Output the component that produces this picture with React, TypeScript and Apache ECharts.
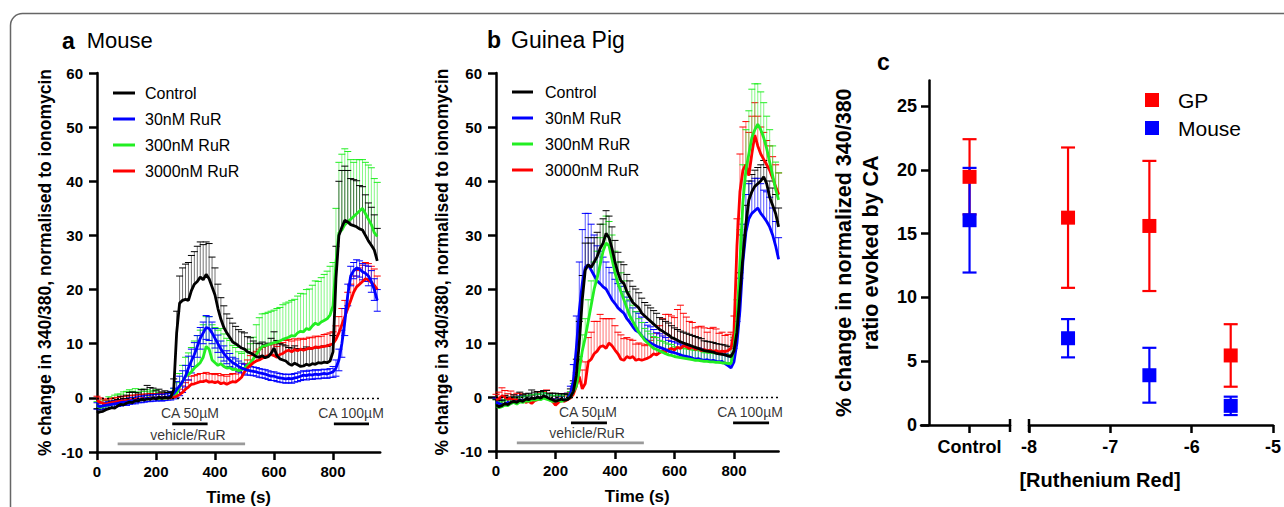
import React, { useEffect, useRef } from "react";
import * as echarts from "echarts";

const FONT = '"Liberation Sans", Arial, Helvetica, sans-serif';

// ---------- sampling times (s) ----------
const T_SEC = [
  0, 10, 20, 30, 40, 50, 60, 70, 80, 90,
  100, 110, 120, 130, 140, 150, 160, 170, 180, 190,
  200, 210, 220, 230, 240, 250, 260, 270, 280, 290,
  300, 310, 320, 330, 340, 350, 360, 370, 380, 390,
  400, 410, 420, 430, 440, 450, 460, 470, 480, 490,
  500, 510, 520, 530, 540, 550, 560, 570, 580, 590,
  600, 610, 620, 630, 640, 650, 660, 670, 680, 690,
  700, 710, 720, 730, 740, 750, 760, 770, 780, 790,
  800, 810, 820, 830, 840, 850, 860, 870, 880, 890,
  900, 910, 920, 930, 940, 950,
];

const SERIES_NAMES = ["Control", "30nM RuR", "300nM RuR", "3000nM RuR"];

// ---------- panel a: Mouse ----------
const A_CONTROL = [
  -2.8, -2.6, -2.5, -2.2, -2.0, -1.8, -1.9, -1.5, -1.2, -1.3,
  -1.0, -0.8, -0.9, -0.5, -0.6, -0.3, -0.4, -0.2, -0.3, 0.0,
  -0.2, 0.1, -0.1, 0.1, 0.0, 0.1, 1.5, 12.0, 17.5, 18.0,
  18.2, 18.0, 19.8, 21.0, 21.5, 22.3, 21.8, 22.8, 22.0, 20.5,
  19.0, 16.5, 14.5, 13.0, 12.0, 11.2, 10.3, 10.0, 9.6, 9.2,
  9.0, 8.5, 8.3, 8.0, 7.6, 7.5, 7.8, 7.4, 7.6, 8.2,
  9.2, 7.8, 7.2, 7.0, 6.8, 6.3, 6.0, 6.4, 6.1, 5.8,
  5.9, 6.2, 6.0, 6.3, 6.2, 6.5, 6.4, 6.6, 6.5, 6.8,
  8.5, 22.0, 30.0, 31.5, 32.8, 32.5, 32.0, 31.8, 31.6, 31.2,
  31.0, 30.0, 29.0, 28.2, 27.3, 25.3,
];
const A_CONTROL_SEM = [
  0.8, 0.8, 1.0, 1.0, 1.0, 1.2, 1.0, 1.2, 1.5, 1.2,
  1.5, 1.8, 2.0, 1.5, 1.5, 1.8, 2.0, 2.5, 2.2, 1.8,
  1.5, 1.5, 1.2, 1.2, 1.0, 1.0, 2.0, 4.0, 5.0, 6.0,
  6.5, 7.0, 6.5, 6.0, 6.5, 6.5, 6.5, 6.0, 6.5, 5.5,
  5.0, 4.5, 4.0, 4.0, 3.5, 3.5, 3.5, 3.2, 3.0, 3.0,
  3.0, 2.8, 2.8, 2.5, 2.5, 2.5, 2.5, 2.5, 2.5, 2.8,
  3.0, 2.8, 2.8, 2.8, 2.8, 3.0, 3.2, 3.2, 3.0, 3.0,
  3.2, 3.2, 3.0, 3.0, 3.0, 3.0, 3.0, 3.0, 3.0, 3.0,
  3.0, 6.0, 10.0, 10.5, 10.0, 9.5, 8.5, 8.5, 8.5, 8.0,
  8.0, 7.5, 7.0, 7.0, 6.5, 6.0,
];
const A_R30 = [
  -1.5, -1.6, -1.5, -1.4, -1.3, -1.2, -1.1, -1.0, -0.9, -0.8,
  -0.8, -0.6, -0.5, -0.5, -0.3, -0.3, -0.2, -0.1, -0.1, 0.0,
  0.0, 0.1, 0.0, 0.1, 0.2, 0.4, 0.8, 1.5, 2.2, 3.0,
  4.0, 5.5, 6.8, 8.0, 9.5, 11.0, 12.0, 13.0, 12.8, 12.0,
  11.0, 10.0, 9.0, 8.2, 7.5, 7.0, 6.5, 6.2, 5.8, 5.5,
  5.3, 5.1, 5.0, 4.9, 4.8, 4.6, 4.5, 4.4, 4.2, 4.0,
  4.0, 3.8, 3.7, 3.6, 3.5, 3.6, 3.5, 3.7, 3.8, 4.0,
  4.2, 4.1, 4.3, 4.2, 4.4, 4.3, 4.4, 4.5, 4.4, 4.6,
  4.8, 5.5, 7.0, 10.0, 14.0, 19.0, 22.5, 23.5, 24.0, 23.8,
  23.3, 23.0, 22.5, 21.5, 20.0, 18.0,
];
const A_R30_SEM = [
  0.6, 0.6, 0.6, 0.6, 0.6, 0.6, 0.6, 0.6, 0.6, 0.6,
  0.6, 0.6, 0.6, 0.6, 0.6, 0.6, 0.6, 0.6, 0.6, 0.6,
  0.6, 0.6, 0.6, 0.6, 0.6, 0.8, 1.0, 1.5, 1.8, 2.0,
  2.0, 2.2, 2.2, 2.2, 2.0, 2.0, 2.0, 2.2, 2.2, 2.0,
  1.8, 1.6, 1.5, 1.4, 1.2, 1.2, 1.0, 1.0, 1.0, 0.9,
  0.9, 0.9, 0.8, 0.8, 0.8, 0.8, 0.8, 0.8, 0.8, 0.8,
  0.8, 0.8, 0.8, 0.8, 0.8, 0.8, 0.8, 0.8, 0.8, 0.8,
  0.8, 0.8, 0.8, 0.8, 0.8, 0.8, 0.8, 0.8, 0.8, 0.8,
  1.0, 1.5, 2.0, 2.5, 2.5, 2.0, 1.8, 1.5, 1.5, 1.5,
  1.5, 1.5, 1.8, 2.0, 2.0, 2.0,
];
const A_R300 = [
  -1.5, -1.8, -1.6, -1.5, -1.3, -1.2, -1.0, -1.1, -0.8, -0.9,
  -0.6, -0.5, -0.6, -0.3, -0.4, -0.2, -0.3, 0.0, -0.1, 0.1,
  0.0, -0.2, 0.0, -0.1, 0.0, 0.0, 0.2, 0.8, 2.0, 3.0,
  4.0, 4.3, 4.8, 5.5, 6.0, 6.5, 7.5, 9.5, 9.0, 7.0,
  6.5, 6.0, 6.3, 5.8, 5.5, 5.6, 5.2, 5.3, 5.0, 5.2,
  5.5, 6.0, 6.5, 7.2, 8.0, 8.8, 9.5, 9.6, 9.8, 10.0,
  10.2, 10.3, 10.5, 10.8, 11.0, 11.2, 11.5, 11.4, 12.0, 12.3,
  12.2, 12.8, 12.6, 13.3, 13.8, 13.5, 14.0, 14.3, 14.6, 15.3,
  17.0, 25.0, 30.5, 31.0, 32.0, 32.5, 33.0, 33.5, 34.0, 34.5,
  35.0, 34.0, 33.0, 32.0, 30.5, 29.8,
];
const A_R300_SEM = [
  0.8, 1.0, 1.2, 1.0, 1.5, 1.2, 1.5, 1.8, 1.5, 2.0,
  1.8, 2.0, 1.8, 2.0, 1.5, 1.8, 1.5, 1.5, 1.2, 1.2,
  1.5, 1.2, 1.0, 1.0, 1.0, 1.0, 1.5, 2.0, 2.5, 3.0,
  3.5, 4.0, 4.5, 5.0, 5.5, 6.0, 6.0, 5.5, 6.0, 6.5,
  6.5, 6.5, 6.5, 6.0, 5.5, 5.0, 4.5, 4.0, 3.5, 3.0,
  3.0, 3.0, 3.5, 4.0, 5.5, 6.0, 6.0, 6.0, 6.0, 6.0,
  6.0, 6.2, 6.2, 6.4, 6.5, 6.5, 6.5, 6.8, 6.8, 7.0,
  7.0, 7.2, 7.5, 7.5, 7.8, 8.0, 8.2, 8.5, 8.8, 9.0,
  8.0, 10.0, 13.0, 14.0, 14.0, 13.0, 11.0, 10.0, 10.0, 9.5,
  9.0, 9.5, 10.0, 10.5, 10.0, 10.0,
];
const A_R3000 = [
  -0.5, -0.8, -1.0, -1.2, -1.0, -0.9, -0.8, -0.7, -0.6, -0.5,
  -0.5, -0.4, -0.3, -0.3, -0.2, -0.2, -0.1, -0.1, 0.0, 0.0,
  0.0, 0.0, 0.1, 0.0, 0.0, 0.0, 0.1, 0.3, 0.6, 1.0,
  1.6, 2.0, 2.5, 2.6, 2.8, 3.0, 3.0, 3.2, 2.9, 3.0,
  2.8, 3.0, 2.6, 2.8, 2.5, 2.8, 3.0, 2.9, 3.3, 3.8,
  4.8, 5.5, 6.0, 6.5, 6.8, 7.0, 7.3, 7.6, 7.8, 8.0,
  7.8, 7.5, 8.0, 8.2, 8.6, 8.8, 8.5, 8.9, 8.7, 9.0,
  8.8, 9.0, 9.2, 9.1, 9.4, 9.3, 9.4, 9.5, 9.6, 9.8,
  10.0, 10.8, 12.0, 13.5, 15.0, 16.5, 18.0, 19.5, 20.5, 21.0,
  21.5, 22.0, 21.8, 21.3, 20.8, 20.0,
];
const A_R3000_SEM = [
  0.8, 0.8, 0.8, 0.8, 0.8, 0.8, 0.8, 0.8, 0.8, 0.8,
  0.8, 0.8, 0.8, 0.8, 0.8, 0.8, 0.8, 0.8, 0.8, 0.8,
  0.8, 0.8, 0.8, 0.8, 0.8, 0.8, 0.8, 1.0, 1.0, 1.2,
  1.2, 1.3, 1.5, 1.5, 1.5, 1.5, 1.5, 1.5, 1.5, 1.5,
  1.5, 1.5, 1.5, 1.5, 1.5, 1.5, 1.5, 1.5, 1.5, 1.5,
  1.5, 1.5, 1.8, 1.8, 1.8, 2.0, 2.0, 2.0, 2.0, 2.0,
  2.0, 2.0, 2.0, 2.0, 2.0, 2.0, 2.0, 2.0, 2.0, 2.0,
  2.0, 2.0, 2.0, 2.0, 2.0, 2.0, 2.0, 2.2, 2.2, 2.2,
  2.2, 2.5, 3.0, 3.0, 3.0, 3.0, 3.0, 3.0, 3.0, 3.0,
  3.0, 3.0, 3.0, 3.0, 3.0, 2.5,
];

// ---------- panel b: Guinea Pig ----------
const B_CONTROL = [
  -1.5, -1.8, -1.6, -1.2, -1.4, -1.0, -0.8, -1.0, -0.6, -0.8,
  -0.4, -0.5, -0.2, -0.3, 0.0, -0.2, 0.2, 0.0, -0.3, -0.5,
  -0.8, -0.6, -0.4, -0.6, -0.5, 0.0, 1.0, 4.0, 10.0, 18.0,
  23.5, 24.5, 24.0, 25.0, 26.0, 27.5, 28.5, 30.3, 29.5, 27.5,
  25.0, 23.0, 21.5, 21.0, 19.5, 18.5, 17.5, 17.0, 16.5, 15.5,
  15.0, 14.5, 14.0, 13.5, 13.0, 12.5, 12.2, 11.8, 11.5, 11.0,
  10.8, 10.5, 10.2, 10.0, 9.8, 9.6, 9.4, 9.2, 9.0, 8.8,
  8.6, 8.5, 8.4, 8.3, 8.1, 8.0, 7.9, 7.8, 7.6, 7.5,
  8.5, 12.0, 19.0, 26.0, 32.0, 36.5, 38.0, 39.0, 39.5, 40.0,
  40.8, 39.5, 37.0, 35.5, 34.0, 31.5,
];
const B_CONTROL_SEM = [
  1.0, 1.2, 1.0, 1.5, 1.2, 1.0, 1.2, 1.0, 1.5, 1.2,
  1.0, 1.2, 1.5, 1.2, 1.0, 1.2, 1.0, 1.2, 1.0, 1.2,
  1.5, 1.2, 1.0, 1.2, 1.0, 1.5, 2.0, 3.0, 4.0, 4.5,
  5.0, 5.0, 4.5, 4.5, 4.5, 4.5, 4.5, 4.2, 4.0, 4.0,
  4.0, 3.8, 3.5, 3.5, 3.2, 3.0, 3.0, 3.0, 2.8, 2.8,
  2.5, 2.5, 2.5, 2.5, 2.5, 2.2, 2.2, 2.2, 2.2, 2.2,
  2.0, 2.0, 2.0, 2.0, 2.0, 2.0, 2.0, 2.0, 2.0, 2.0,
  1.8, 1.8, 1.8, 1.8, 1.8, 1.8, 1.8, 1.8, 1.8, 1.8,
  2.0, 3.0, 4.0, 4.0, 3.5, 3.5, 3.2, 3.0, 3.0, 3.0,
  3.0, 3.0, 3.0, 3.2, 3.5, 3.5,
];
const B_R30 = [
  -1.0, -1.2, -1.5, -1.3, -1.0, -1.2, -0.8, -1.0, -0.6, -0.7,
  -0.5, -0.6, -0.3, -0.4, -0.2, -0.3, 0.0, -0.2, -0.4, -0.5,
  -0.6, -0.5, -0.7, -0.5, -0.3, 0.5, 3.0, 9.0, 16.0, 21.0,
  24.0, 24.5, 23.5, 22.5, 21.5, 21.0, 20.4, 20.0, 19.0, 18.0,
  17.3, 16.5, 16.0, 15.5, 14.5, 13.8, 13.0, 12.3, 12.0, 11.3,
  10.8, 10.3, 10.0, 9.7, 9.4, 9.2, 9.0, 8.8, 8.5, 8.3,
  8.2, 8.0, 7.8, 7.6, 7.5, 7.4, 7.2, 7.0, 7.1, 6.9,
  6.8, 6.9, 6.7, 6.8, 6.6, 6.5, 6.6, 6.2, 5.8, 5.4,
  6.5, 10.0, 16.0, 25.0, 30.5, 33.0, 34.0, 34.5, 35.0, 34.0,
  33.3, 32.5, 31.5, 30.0, 28.0, 25.5,
];
const B_R30_SEM = [
  0.8, 0.8, 0.8, 0.8, 0.8, 0.8, 0.8, 0.8, 0.8, 0.8,
  0.8, 0.8, 0.8, 0.8, 0.8, 0.8, 0.8, 0.8, 0.8, 0.8,
  0.8, 0.8, 0.8, 1.0, 1.0, 1.5, 3.0, 6.0, 9.0, 10.0,
  10.0, 9.5, 8.5, 7.5, 6.5, 6.0, 5.5, 5.0, 5.0, 5.0,
  4.5, 4.5, 4.5, 4.0, 4.0, 4.0, 3.5, 3.5, 3.5, 3.5,
  3.0, 3.0, 3.0, 2.8, 2.5, 2.5, 2.3, 2.2, 2.0, 2.0,
  2.0, 2.0, 2.0, 2.0, 2.0, 2.0, 2.0, 2.0, 2.0, 2.0,
  1.8, 1.8, 1.8, 1.8, 1.8, 1.8, 1.8, 1.8, 1.8, 2.0,
  2.5, 4.0, 6.0, 7.0, 7.0, 6.5, 6.0, 6.0, 5.5, 5.5,
  5.0, 5.5, 5.5, 5.0, 4.5, 4.0,
];
const B_R300 = [
  -1.5, -2.0, -1.8, -1.5, -1.6, -1.2, -1.0, -1.3, -0.9, -1.0,
  -0.7, -0.8, -0.5, -0.6, -0.4, -0.5, -0.2, -0.4, -0.6, -0.8,
  -0.7, -0.6, -0.8, -0.6, -0.4, 0.0, 1.0, 2.0, 5.0, 8.5,
  11.0, 14.0, 17.0, 20.0, 22.0, 24.5, 27.0, 28.5, 28.0, 25.5,
  23.0, 21.0, 19.5, 18.0, 16.5, 15.0, 14.0, 13.0, 12.0, 11.3,
  10.5, 10.0, 9.5, 9.0, 8.8, 8.5, 8.3, 8.0, 7.8, 7.7,
  7.5, 7.4, 7.3, 7.2, 7.1, 7.0, 6.9, 6.8, 6.8, 6.7,
  6.6, 6.6, 6.5, 6.5, 6.4, 6.4, 6.3, 6.3, 6.2, 6.2,
  9.0, 14.0, 25.0, 36.0, 42.0, 45.0, 48.0, 49.5, 50.5, 49.5,
  48.0, 46.0, 43.5, 41.0, 38.5, 36.5,
];
const B_R300_SEM = [
  1.0, 1.0, 1.0, 1.0, 1.0, 1.0, 1.0, 1.0, 1.0, 1.0,
  1.0, 1.0, 1.0, 1.0, 1.0, 1.0, 1.0, 1.0, 1.0, 1.0,
  1.0, 1.0, 1.0, 1.0, 1.0, 1.0, 1.5, 2.0, 2.5, 3.0,
  3.5, 4.0, 4.5, 5.0, 5.0, 5.0, 5.0, 5.0, 4.5, 4.5,
  4.0, 4.0, 3.5, 3.5, 3.0, 3.0, 3.0, 2.8, 2.5, 2.5,
  2.2, 2.2, 2.2, 2.2, 2.2, 2.0, 2.0, 2.0, 2.0, 2.0,
  1.8, 1.8, 1.8, 1.8, 1.8, 1.8, 1.8, 1.8, 1.8, 1.8,
  1.6, 1.6, 1.6, 1.6, 1.6, 1.6, 1.6, 1.6, 1.6, 1.6,
  2.0, 4.0, 6.0, 7.0, 7.5, 8.0, 9.0, 8.5, 7.5, 7.0,
  6.5, 6.0, 6.0, 5.5, 5.0, 5.0,
];
const B_R3000 = [
  -0.5, -0.3, 0.2, 0.0, -0.4, -0.2, -0.6, -0.5, -0.8, -0.6,
  -1.0, -0.8, -1.2, -0.7, -0.5, -0.3, 0.0, -0.2, -0.5, -0.8,
  -1.5, -1.0, -0.6, -0.8, -0.5, -0.2, 0.5, 2.0, 3.8, 1.5,
  2.5, 6.5, 7.0, 8.0, 8.5, 9.3, 9.5, 9.0, 10.0, 9.5,
  8.7, 8.0, 7.0, 6.8, 7.5, 7.2, 7.5, 6.8, 7.0, 6.8,
  7.0, 7.2, 7.5, 8.0, 7.8, 8.2, 8.5, 8.3, 8.8, 9.0,
  8.7, 9.2, 9.0, 9.5, 9.3, 9.0, 9.3, 8.8, 9.0, 8.6,
  8.8, 8.5, 8.7, 8.4, 8.6, 8.3, 8.5, 8.4, 8.6, 9.0,
  12.0, 28.0, 38.0, 42.0, 43.0, 41.0, 45.0, 48.5, 46.5, 45.0,
  44.0, 43.0, 42.0, 40.5, 39.0, 37.5,
];
const B_R3000_SEM = [
  1.0, 1.2, 1.5, 1.2, 1.0, 1.3, 1.0, 1.2, 1.5, 1.0,
  1.2, 1.0, 1.5, 1.2, 1.5, 1.2, 1.0, 1.5, 1.2, 1.0,
  1.2, 1.0, 1.2, 1.0, 1.2, 1.0, 1.5, 2.5, 3.0, 3.5,
  4.0, 4.5, 5.0, 6.0, 5.5, 6.0, 5.0, 5.5, 4.5, 5.0,
  4.5, 4.0, 4.5, 4.0, 3.5, 3.5, 3.0, 3.0, 3.0, 3.0,
  2.5, 2.5, 3.0, 3.0, 4.0, 5.0, 6.0, 7.0, 6.5, 6.0,
  6.0, 7.0, 8.0, 6.0, 5.5, 5.0, 4.5, 4.0, 4.0, 4.5,
  4.0, 3.5, 4.0, 4.5, 4.0, 3.5, 3.5, 3.0, 3.0, 3.0,
  3.0, 5.0, 7.0, 8.0, 8.0, 8.0, 7.0, 6.0, 5.5, 5.0,
  5.0, 4.5, 4.5, 4.0, 4.0, 4.0,
];

// ---------- stimulus annotations (time s, value %) ----------
const NOTE_TEXT = ["CA 50µM", "vehicle/RuR", "CA 100µM"];
const A_NOTE_T = [315, 308, 861];
const A_NOTE_V = [-2.8, -6.8, -2.8];
const A_BAR_FROM = [255, 70, 803];
const A_BAR_TO = [375, 502, 922];
const A_BAR_V = [-4.8, -8.5, -4.8];
const B_NOTE_T = [309, 306, 854];
const B_NOTE_V = [-2.8, -6.7, -2.8];
const B_BAR_FROM = [252, 70, 797];
const B_BAR_TO = [373, 497, 918];
const B_BAR_V = [-4.8, -8.5, -4.8];

const TIME_TICKS = [0, 200, 400, 600, 800];
const TRACE_Y_TICKS = [-10, 0, 10, 20, 30, 40, 50, 60];

// ---------- panel c ----------
const C_CONTROL_LABEL = "Control";
const LOG_RUR = [-7.52, -6.52, -5.52]; // log10 of 30, 300, 3000 nM
const GP_MEAN = [19.45, 16.25, 15.6, 5.45]; // [control, 30nM, 300nM, 3000nM]
const GP_SEM = [2.95, 5.5, 5.1, 2.45];
const MOUSE_MEAN = [16.05, 6.8, 3.9, 1.5];
const MOUSE_SEM = [4.1, 1.5, 2.15, 0.72];
const C_Y_TICKS = [0, 5, 10, 15, 20, 25];
const C_X_TICKS = [-8, -7, -6, -5];
const BREAK_Y = [-0.55, 0.47];

const BLACK = "#000000";
const BLUE = "#0000ff";
const GREEN = "#22ee22";
const RED = "#ff0000";

function errBars(color: string, capW: number, lw: number, both: boolean, barOpacity: number) {
  return (params: any, api: any) => {
    const x = api.value(0);
    const lo = api.coord([x, api.value(1)]);
    const hi = api.coord([x, api.value(2)]);
    const children: any[] = [
      {
        type: "line",
        shape: { x1: lo[0], y1: lo[1], x2: hi[0], y2: hi[1] },
        style: { stroke: color, lineWidth: lw, opacity: barOpacity },
      },
      {
        type: "line",
        shape: { x1: hi[0] - capW / 2, y1: hi[1], x2: hi[0] + capW / 2, y2: hi[1] },
        style: { stroke: color, lineWidth: lw },
      },
    ];
    if (both) {
      children.push({
        type: "line",
        shape: { x1: lo[0] - capW / 2, y1: lo[1], x2: lo[0] + capW / 2, y2: lo[1] },
        style: { stroke: color, lineWidth: lw },
      });
    }
    return { type: "group", children };
  };
}

type Grp = { name: string; mean: number[]; sem: number[]; color: string; both: boolean; op: number };

function tracePanel(
  idx: number,
  groups: Grp[],
  noteT: number[],
  noteV: number[],
  barFrom: number[],
  barTo: number[],
  barV: number[]
) {
  const s: any[] = [];
  groups.forEach((g) => {
    s.push({
      type: "custom",
      name: g.name + " SEM",
      xAxisIndex: idx,
      yAxisIndex: idx,
      renderItem: errBars(g.color, 7, 1, g.both, g.op),
      data: T_SEC.map((t, i) => [t, g.both ? g.mean[i] - g.sem[i] : g.mean[i], g.mean[i] + g.sem[i]]),
      encode: { x: 0, y: [1, 2] },
      silent: true,
      z: 2,
    });
  });
  groups.forEach((g, k) => {
    s.push({
      type: "line",
      name: g.name,
      xAxisIndex: idx,
      yAxisIndex: idx,
      data: T_SEC.map((t, i) => [t, g.mean[i]]),
      symbol: "none",
      showSymbol: false,
      lineStyle: { color: g.color, width: 2.8 },
      itemStyle: { color: g.color },
      silent: true,
      z: 3,
      markLine:
        k === 0
          ? {
              symbol: ["none", "none"],
              silent: true,
              label: { show: false },
              lineStyle: { color: BLACK, type: [2, 3], width: 1.4 },
              data: [{ yAxis: 0 }],
            }
          : undefined,
    });
  });
  barFrom.forEach((f, i) => {
    s.push({
      type: "line",
      xAxisIndex: idx,
      yAxisIndex: idx,
      data: [
        [f, barV[i]],
        [barTo[i], barV[i]],
      ],
      symbol: "none",
      lineStyle: { color: i === 1 ? "#9a9a9a" : BLACK, width: 2.6 },
      silent: true,
      z: 4,
    });
  });
  s.push({
    type: "scatter",
    xAxisIndex: idx,
    yAxisIndex: idx,
    symbolSize: 1,
    itemStyle: { color: "rgba(0,0,0,0)" },
    label: {
      show: true,
      position: "inside",
      formatter: "{b}",
      color: BLACK,
      fontSize: 14,
      fontFamily: FONT,
    },
    data: NOTE_TEXT.map((n, i) => ({ name: n, value: [noteT[i], noteV[i]] })),
    silent: true,
    z: 5,
  });
  return s;
}

const axisLineStyle = { show: true, onZero: false, lineStyle: { color: BLACK, width: 2.5 } };
function ticks(vals: number[], len = 8) {
  return { show: true, inside: false, length: len, customValues: vals, lineStyle: { color: BLACK, width: 2.5 } };
}
function labels(vals: number[], size: number, margin: number, extra: any = {}) {
  return {
    customValues: vals,
    fontSize: size,
    fontWeight: "bold",
    color: BLACK,
    fontFamily: FONT,
    margin,
    ...extra,
  };
}

function traceAxes(idx: number, xmax: number, nameGap: number) {
  const x = {
    type: "value",
    gridIndex: idx,
    min: 0,
    max: xmax,
    axisLine: axisLineStyle,
    axisTick: ticks(TIME_TICKS),
    axisLabel: labels(TIME_TICKS, 15, 12),
    splitLine: { show: false },
    name: "Time (s)",
    nameLocation: "middle",
    nameGap: 37,
    nameTextStyle: { fontSize: 17, fontWeight: "bold", color: BLACK, fontFamily: FONT },
  };
  const y = {
    type: "value",
    gridIndex: idx,
    min: -10,
    max: 60,
    interval: 10,
    axisLine: axisLineStyle,
    axisTick: ticks(TRACE_Y_TICKS),
    axisLabel: labels(TRACE_Y_TICKS, 15, 14),
    splitLine: { show: false },
    name: "% change in 340/380, normalised to ionomycin",
    nameLocation: "middle",
    nameGap,
    nameRotate: 90,
    nameTextStyle: { fontSize: 17.5, fontWeight: "bold", color: BLACK, fontFamily: FONT },
  };
  return { x, y };
}

function buildOption(): any {
  const a = traceAxes(0, 960, 43);
  const b = traceAxes(1, 950, 45);

  const xC1 = {
    type: "value",
    gridIndex: 2,
    min: -0.6,
    max: 0.5,
    axisLine: axisLineStyle,
    axisTick: ticks([0]),
    axisLabel: labels([0], 18, 13, { formatter: () => C_CONTROL_LABEL }),
    splitLine: { show: false },
  };
  const yC1 = {
    type: "value",
    gridIndex: 2,
    min: 0,
    max: 27,
    offset: -8,
    axisLine: axisLineStyle,
    axisTick: ticks(C_Y_TICKS),
    axisLabel: labels(C_Y_TICKS, 18, 12),
    splitLine: { show: false },
    name: "% change in normalized 340/380\nratio evoked by CA",
    nameLocation: "middle",
    nameGap: 45,
    nameRotate: 90,
    nameTextStyle: { fontSize: 21.5, fontWeight: "bold", color: BLACK, fontFamily: FONT, lineHeight: 27 },
  };
  const xC2 = {
    type: "value",
    gridIndex: 3,
    min: -8,
    max: -5,
    interval: 1,
    axisLine: axisLineStyle,
    axisTick: ticks(C_X_TICKS),
    axisLabel: labels(C_X_TICKS, 18, 13),
    splitLine: { show: false },
  };
  const yC2 = { type: "value", gridIndex: 3, min: 0, max: 27, show: false };

  const groupsA: Grp[] = [
    { name: SERIES_NAMES[2], mean: A_R300, sem: A_R300_SEM, color: GREEN, both: false, op: 0.55 },
    { name: SERIES_NAMES[3], mean: A_R3000, sem: A_R3000_SEM, color: RED, both: false, op: 0.55 },
    { name: SERIES_NAMES[1], mean: A_R30, sem: A_R30_SEM, color: BLUE, both: true, op: 0.65 },
    { name: SERIES_NAMES[0], mean: A_CONTROL, sem: A_CONTROL_SEM, color: BLACK, both: false, op: 0.55 },
  ];
  const groupsB: Grp[] = [
    { name: SERIES_NAMES[3], mean: B_R3000, sem: B_R3000_SEM, color: RED, both: false, op: 0.55 },
    { name: SERIES_NAMES[1], mean: B_R30, sem: B_R30_SEM, color: BLUE, both: false, op: 0.65 },
    { name: SERIES_NAMES[2], mean: B_R300, sem: B_R300_SEM, color: GREEN, both: false, op: 0.55 },
    { name: SERIES_NAMES[0], mean: B_CONTROL, sem: B_CONTROL_SEM, color: BLACK, both: false, op: 0.55 },
  ];

  const cSeries: any[] = [];
  const cGroups = [
    { name: "GP", mean: GP_MEAN, sem: GP_SEM, color: RED },
    { name: "Mouse", mean: MOUSE_MEAN, sem: MOUSE_SEM, color: BLUE },
  ];
  cGroups.forEach((g) => {
    const ctrl = [[0, g.mean[0] - g.sem[0], g.mean[0] + g.sem[0]]];
    const conc = LOG_RUR.map((x, i) => [x, g.mean[i + 1] - g.sem[i + 1], g.mean[i + 1] + g.sem[i + 1]]);
    [
      { idx: 2, err: ctrl, pts: [[0, g.mean[0]]] },
      { idx: 3, err: conc, pts: LOG_RUR.map((x, i) => [x, g.mean[i + 1]]) },
    ].forEach((p) => {
      cSeries.push({
        type: "custom",
        name: g.name + " SEM",
        xAxisIndex: p.idx,
        yAxisIndex: p.idx,
        renderItem: errBars(g.color, 14, 2.2, true, 1),
        data: p.err,
        encode: { x: 0, y: [1, 2] },
        silent: true,
        clip: false,
      });
      cSeries.push({
        type: "scatter",
        name: g.name,
        xAxisIndex: p.idx,
        yAxisIndex: p.idx,
        symbol: "rect",
        symbolSize: 14,
        itemStyle: { color: g.color, opacity: 1 },
        data: p.pts,
        silent: true,
        clip: false,
      });
    });
  });
  // axis-break end marks
  cSeries.push({
    type: "line",
    xAxisIndex: 2,
    yAxisIndex: 2,
    data: BREAK_Y.map((v) => [0.5, v]),
    symbol: "none",
    lineStyle: { color: BLACK, width: 2.5 },
    silent: true,
    clip: false,
  });
  cSeries.push({
    type: "line",
    xAxisIndex: 3,
    yAxisIndex: 3,
    data: BREAK_Y.map((v) => [-8, v]),
    symbol: "none",
    lineStyle: { color: BLACK, width: 2.5 },
    silent: true,
    clip: false,
  });

  const legendBase = {
    data: SERIES_NAMES,
    orient: "vertical",
    icon: "rect",
    itemHeight: 3,
    itemGap: 10,
    padding: 0,
    selectedMode: false,
  };

  return {
    animation: false,
    backgroundColor: "#ffffff",
    textStyle: { fontFamily: FONT },
    grid: [
      { left: 97, top: 73, width: 283.2, height: 379, outerBoundsMode: "none" },
      { left: 496, top: 73, width: 282.6, height: 378, outerBoundsMode: "none" },
      { left: 921, top: 80.5, width: 89, height: 344.5, outerBoundsMode: "none" },
      { left: 1029, top: 80.5, width: 244, height: 344.5, outerBoundsMode: "none" },
    ],
    xAxis: [a.x, b.x, xC1, xC2],
    yAxis: [a.y, b.y, yC1, yC2],
    title: [
      {
        text: "{b|a}{n|Mouse}",
        left: 62,
        top: 29,
        padding: 0,
        textStyle: {
          fontWeight: "normal",
          rich: {
            b: { fontSize: 23, fontWeight: "bold", color: BLACK, fontFamily: FONT },
            n: { fontSize: 22, fontWeight: "normal", color: BLACK, fontFamily: FONT, padding: [0, 0, 0, 12] },
          },
        },
      },
      {
        text: "{b|b}{n|Guinea Pig}",
        left: 487,
        top: 28,
        padding: 0,
        textStyle: {
          fontWeight: "normal",
          rich: {
            b: { fontSize: 23, fontWeight: "bold", color: BLACK, fontFamily: FONT },
            n: { fontSize: 23, fontWeight: "normal", color: BLACK, fontFamily: FONT, padding: [0, 0, 0, 10] },
          },
        },
      },
      {
        text: "c",
        left: 877,
        top: 50,
        padding: 0,
        textStyle: { fontSize: 23, fontWeight: "bold", color: BLACK, fontFamily: FONT },
      },
    ],
    legend: [
      {
        ...legendBase,
        left: 113,
        top: 85,
        itemWidth: 22,
        textStyle: { fontSize: 16, color: BLACK, fontFamily: FONT, padding: [0, 0, 0, 5] },
      },
      {
        ...legendBase,
        left: 512,
        top: 84,
        itemWidth: 21,
        textStyle: { fontSize: 16, color: BLACK, fontFamily: FONT, padding: [0, 0, 0, 7] },
      },
      {
        data: ["GP", "Mouse"],
        orient: "vertical",
        icon: "rect",
        left: 1145,
        top: 89.5,
        itemWidth: 14,
        itemHeight: 14,
        itemGap: 7,
        padding: 0,
        selectedMode: false,
        textStyle: { fontSize: 21, color: BLACK, fontFamily: FONT, padding: [0, 0, 0, 14] },
      },
    ],
    graphic: [
      {
        type: "rect",
        silent: true,
        z: -10,
        shape: { x: 10.5, y: 13.5, width: 1400, height: 700, r: 12 },
        style: { fill: "none", stroke: "#666666", lineWidth: 1.5 },
      },
      {
        type: "text",
        silent: true,
        x: 1100,
        y: 480,
        style: {
          text: "[Ruthenium Red]",
          fontSize: 20,
          fontWeight: "bold",
          fontFamily: FONT,
          fill: BLACK,
          align: "center",
          verticalAlign: "middle",
        },
      },
    ],
    series: [
      ...tracePanel(0, groupsA, A_NOTE_T, A_NOTE_V, A_BAR_FROM, A_BAR_TO, A_BAR_V),
      ...tracePanel(1, groupsB, B_NOTE_T, B_NOTE_V, B_BAR_FROM, B_BAR_TO, B_BAR_V),
      ...cSeries,
    ],
  };
}

export default function App() {
  const ref = useRef<HTMLDivElement>(null);
  useEffect(() => {
    if (!ref.current) return;
    const chart = echarts.init(ref.current, null, { renderer: "svg" });
    chart.setOption(buildOption());
    return () => chart.dispose();
  }, []);
  return (
    <div
      ref={ref}
      style={{ position: "fixed", left: 0, top: 0, width: 1284, height: 507, background: "#ffffff" }}
    />
  );
}
